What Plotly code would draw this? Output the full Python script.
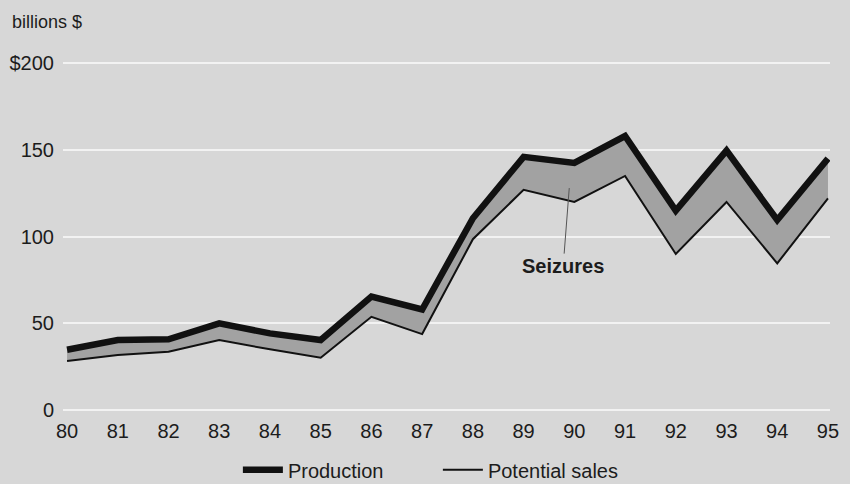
import plotly.graph_objects as go

years = [80, 81, 82, 83, 84, 85, 86, 87, 88, 89, 90, 91, 92, 93, 94, 95]
year_labels = [str(y) for y in years]
production = [34.8, 40.4, 40.8, 50.0, 44.2, 40.4, 65.4, 58.0, 110.6, 146.0, 142.5, 158.0, 115.0, 149.6, 109.6, 145.0]
potential_sales = [28.3, 31.7, 33.6, 40.4, 35.0, 30.2, 53.8, 43.8, 98.5, 127.0, 120.0, 135.0, 90.0, 120.0, 84.6, 122.0]
y_ticks = [0, 50, 100, 150, 200]
y_tick_labels = ["0", "50", "100", "150", "$200"]

BG = "#d7d7d7"
INK = "#1c1c1c"
FONT = "Liberation Sans, Arial, sans-serif"

fig = go.Figure()

# seizures band (fill between potential sales and production)
fig.add_trace(go.Scatter(x=years, y=potential_sales, mode="lines",
                         line=dict(width=0, color=BG), showlegend=False, hoverinfo="skip"))
fig.add_trace(go.Scatter(x=years, y=production, mode="lines", fill="tonexty",
                         fillcolor="#a2a2a2", line=dict(width=0, color="#a2a2a2"),
                         showlegend=False, hoverinfo="skip"))
# lines
fig.add_trace(go.Scatter(x=years, y=production, mode="lines", name="Production",
                         line=dict(width=6.5, color="#111111")))
fig.add_trace(go.Scatter(x=years, y=potential_sales, mode="lines", name="Potential sales",
                         line=dict(width=2, color="#111111")))

fig.add_annotation(x=89.9, y=128, ax=89.78, ay=83, axref="x", ayref="y",
                   text="<b>Seizures</b>", showarrow=True, arrowhead=0,
                   arrowwidth=1, arrowcolor="#555555", standoff=0,
                   font=dict(size=20, color=INK, family=FONT))

fig.add_annotation(x=-0.069, y=1.10, xref="paper", yref="paper", xanchor="left", yanchor="middle",
                   text="billions $", showarrow=False,
                   font=dict(size=18, color=INK, family=FONT))

fig.update_layout(
    width=850, height=484,
    margin=dict(l=63, r=20, t=58, b=71, autoexpand=False),
    paper_bgcolor=BG, plot_bgcolor=BG,
    font=dict(family=FONT, size=20, color=INK),
    showlegend=True,
    legend=dict(orientation="h", x=0.228, xanchor="left", y=-0.16, yanchor="middle",
                bgcolor="rgba(0,0,0,0)", font=dict(size=20, color=INK, family=FONT),
                itemwidth=40, entrywidth=145, traceorder="normal"),
    xaxis=dict(range=[79.92, 95.04], tickmode="array", tickvals=years, ticktext=year_labels,
               showgrid=False, zeroline=False, showline=False,
               ticks="outside", ticklen=0, tickcolor=BG,
               tickfont=dict(size=20, color=INK, family=FONT)),
    yaxis=dict(range=[-1.7, 203], tickmode="array", tickvals=y_ticks, ticktext=y_tick_labels,
               showgrid=True, gridcolor="#f2f2f2", gridwidth=1.6, zeroline=False, showline=False,
               ticks="outside", ticklen=4, tickcolor=BG,
               tickfont=dict(size=20, color=INK, family=FONT)),
)

fig.write_html("out.html", config={"displayModeBar": False},
               post_script="document.body.style.margin='0';document.body.style.background='%s';" % BG)
